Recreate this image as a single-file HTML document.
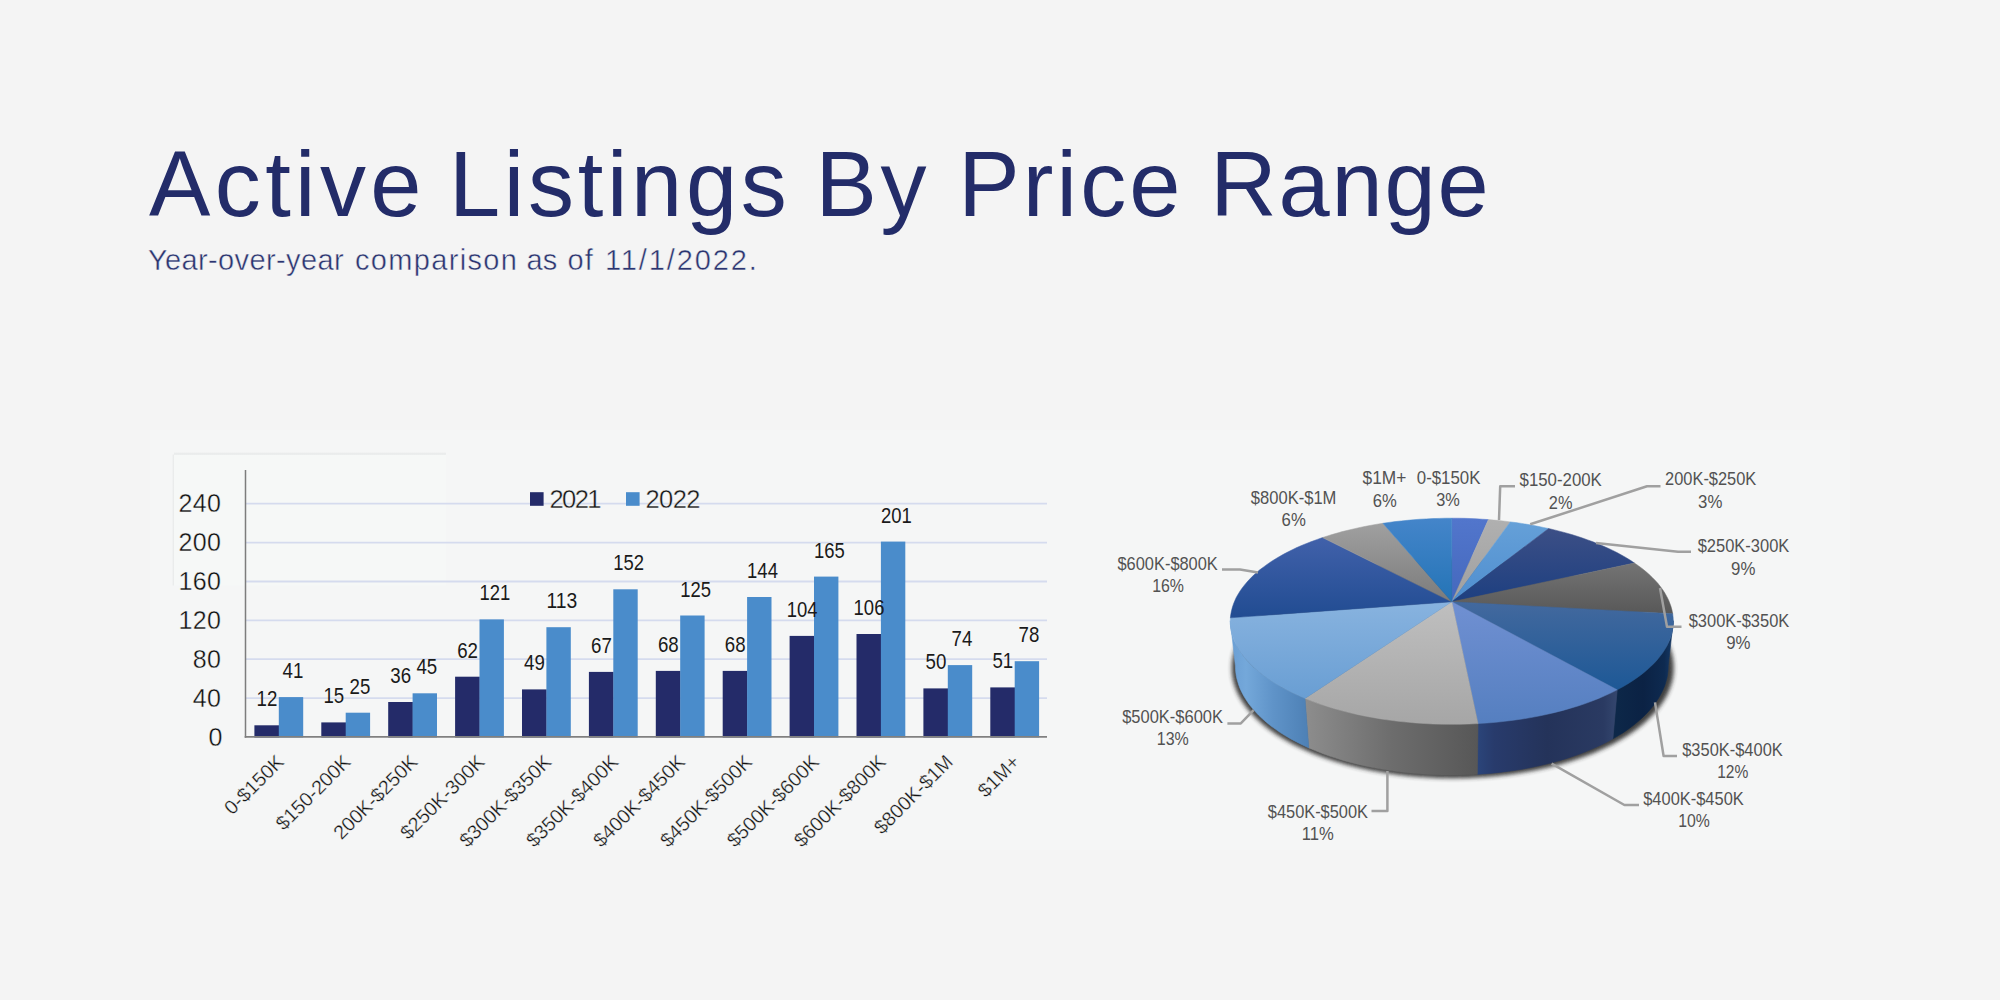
<!DOCTYPE html>
<html lang="en"><head><meta charset="utf-8"><title>Active Listings By Price Range</title>
<style>
html,body{margin:0;padding:0;}
body{width:2000px;height:1000px;background:#f4f4f4;overflow:hidden;position:relative;font-family:"Liberation Sans",Arial,sans-serif;}
h1{position:absolute;left:0;top:130.5px;margin:0;font-weight:400;font-size:92px;line-height:106px;color:#232c69;white-space:nowrap;width:2000px;height:106px;}
h1 span{position:absolute;top:0;}
p.sub span{position:absolute;top:0;}
p.sub{position:absolute;left:0;top:242.6px;width:2000px;height:34px;margin:0;font-size:29px;line-height:34px;color:#2b3470;white-space:nowrap;-webkit-text-stroke:0.45px #f4f4f4;}
svg{position:absolute;left:0;top:0;}
svg text{font-family:"Liberation Sans",Arial,sans-serif;}
.yl{font-size:25px;fill:#0e0e0e;letter-spacing:0.4px;stroke:#f5f7f6;stroke-width:0.35px;}
.lg{font-size:25.5px;fill:#141414;stroke:#f5f7f6;stroke-width:0.35px;}
.vl{font-size:21.5px;fill:#1a1a1a;}
.cl{font-size:19.7px;fill:#121212;stroke:#f5f7f6;stroke-width:0.3px;}
.pl{font-size:19px;fill:#525252;}
</style></head>
<body>
<h1><span style="left:149px;letter-spacing:4.4px">Active</span> <span style="left:449px;letter-spacing:3.7px">Listings</span> <span style="left:815.5px;letter-spacing:3.6px">By</span> <span style="left:958.3px;letter-spacing:3.15px">Price</span> <span style="left:1210.3px;letter-spacing:1.8px">Range</span></h1>
<p class="sub"><span style="left:148.0px;letter-spacing:0.37px">Year-over-year</span> <span style="left:355.0px;letter-spacing:1.324px">comparison</span> <span style="left:526.5px;letter-spacing:0.1px">as</span> <span style="left:567.5px;letter-spacing:1.1px">of</span> <span style="left:605.0px;letter-spacing:1.879px">11/1/2022.</span></p>
<svg width="2000" height="1000" viewBox="0 0 2000 1000">
<defs>
<linearGradient id="bxs" x1="0" y1="0" x2="0" y2="1"><stop offset="0" stop-color="#e4e6e6" stop-opacity="0"/><stop offset="1" stop-color="#e2e4e4"/></linearGradient>
<linearGradient id="bxl" x1="0" y1="0" x2="1" y2="0"><stop offset="0" stop-color="#e8eaea" stop-opacity="0"/><stop offset="1" stop-color="#e6e8e8"/></linearGradient>
<filter id="psh" x="-10%" y="-10%" width="120%" height="130%"><feGaussianBlur stdDeviation="2.0"/><feOffset dx="0.5" dy="2.4"/><feComponentTransfer><feFuncA type="linear" slope="0.9"/></feComponentTransfer></filter>
<linearGradient id="w5" gradientUnits="userSpaceOnUse" x1="1612.9" y1="0" x2="1673.3" y2="0"><stop offset="0" stop-color="#0d2849"/><stop offset="0.5" stop-color="#0b2244"/><stop offset="0.85" stop-color="#0e2a50"/><stop offset="1" stop-color="#163a68"/></linearGradient>
<linearGradient id="w6" gradientUnits="userSpaceOnUse" x1="1477.3" y1="0" x2="1617.2" y2="0"><stop offset="0" stop-color="#2b457a"/><stop offset="0.12" stop-color="#283b6c"/><stop offset="0.5" stop-color="#24335a"/><stop offset="0.9" stop-color="#2a3a62"/><stop offset="1" stop-color="#34466e"/></linearGradient>
<linearGradient id="w7" gradientUnits="userSpaceOnUse" x1="1305.0" y1="0" x2="1478.0" y2="0"><stop offset="0" stop-color="#8d8d8d"/><stop offset="0.5" stop-color="#6d6d6d"/><stop offset="1" stop-color="#575757"/></linearGradient>
<linearGradient id="w8" gradientUnits="userSpaceOnUse" x1="1230.3" y1="0" x2="1308.8" y2="0"><stop offset="0" stop-color="#6a9ed3"/><stop offset="0.2" stop-color="#74a8da"/><stop offset="0.55" stop-color="#5f93c8"/><stop offset="1" stop-color="#4d80b5"/></linearGradient>
<linearGradient id="t0" x1="0" y1="0" x2="0" y2="1"><stop offset="0" stop-color="#5276cc"/><stop offset="1" stop-color="#4468bd"/></linearGradient>
<linearGradient id="t1" x1="0" y1="0" x2="0" y2="1"><stop offset="0" stop-color="#b0b0b0"/><stop offset="1" stop-color="#a0a0a0"/></linearGradient>
<linearGradient id="t2" x1="0" y1="0" x2="0" y2="1"><stop offset="0" stop-color="#65a0d8"/><stop offset="1" stop-color="#4f8ecf"/></linearGradient>
<linearGradient id="t3" x1="0" y1="0" x2="0" y2="1"><stop offset="0" stop-color="#3c4f86"/><stop offset="1" stop-color="#1d3f80"/></linearGradient>
<linearGradient id="t4" x1="0" y1="0" x2="0" y2="1"><stop offset="0" stop-color="#747474"/><stop offset="1" stop-color="#585858"/></linearGradient>
<linearGradient id="t5" x1="0" y1="0" x2="0" y2="1"><stop offset="0" stop-color="#43699e"/><stop offset="1" stop-color="#1d5896"/></linearGradient>
<linearGradient id="t6" x1="0" y1="0" x2="0" y2="1"><stop offset="0" stop-color="#7090d2"/><stop offset="1" stop-color="#557fc0"/></linearGradient>
<linearGradient id="t7" x1="0" y1="0" x2="0" y2="1"><stop offset="0" stop-color="#bfbfbf"/><stop offset="1" stop-color="#a6a6a6"/></linearGradient>
<linearGradient id="t8" x1="0" y1="0" x2="0" y2="1"><stop offset="0" stop-color="#88b3df"/><stop offset="1" stop-color="#699ed3"/></linearGradient>
<linearGradient id="t9" x1="0" y1="0" x2="0" y2="1"><stop offset="0" stop-color="#4161aa"/><stop offset="1" stop-color="#214c92"/></linearGradient>
<linearGradient id="t10" x1="0" y1="0" x2="0" y2="1"><stop offset="0" stop-color="#a0a0a0"/><stop offset="1" stop-color="#7b7b7b"/></linearGradient>
<linearGradient id="t11" x1="0" y1="0" x2="0" y2="1"><stop offset="0" stop-color="#4485ca"/><stop offset="1" stop-color="#2474b6"/></linearGradient>
</defs>
<rect x="150" y="430" width="1700" height="420" fill="#f5f6f6"/>
<rect x="174" y="454.5" width="272" height="131" fill="#f6f8f7"/>
<rect x="174" y="452" width="272" height="2.5" fill="url(#bxs)"/>
<rect x="171.8" y="454.5" width="2.2" height="131" fill="url(#bxl)"/>
<line x1="245.5" y1="698.1" x2="1047" y2="698.1" stroke="#d5dbee" stroke-width="1.8"/>
<line x1="245.5" y1="659.2" x2="1047" y2="659.2" stroke="#d5dbee" stroke-width="1.8"/>
<line x1="245.5" y1="620.4" x2="1047" y2="620.4" stroke="#d5dbee" stroke-width="1.8"/>
<line x1="245.5" y1="581.5" x2="1047" y2="581.5" stroke="#d5dbee" stroke-width="1.8"/>
<line x1="245.5" y1="542.6" x2="1047" y2="542.6" stroke="#d5dbee" stroke-width="1.8"/>
<line x1="245.5" y1="503.7" x2="1047" y2="503.7" stroke="#d5dbee" stroke-width="1.8"/>
<text x="222.8" y="745.7" text-anchor="end" class="yl">0</text>
<text x="221.3" y="706.8" text-anchor="end" class="yl">40</text>
<text x="221.3" y="667.9" text-anchor="end" class="yl">80</text>
<text x="221.3" y="629.1" text-anchor="end" class="yl">120</text>
<text x="221.3" y="590.2" text-anchor="end" class="yl">160</text>
<text x="221.3" y="551.3" text-anchor="end" class="yl">200</text>
<text x="221.3" y="512.4" text-anchor="end" class="yl">240</text>
<rect x="254.4" y="725.3" width="24.7" height="12.2" fill="#242b69"/>
<rect x="278.8" y="697.1" width="24.4" height="40.4" fill="#4a8ccb"/>
<rect x="321.3" y="722.4" width="24.7" height="15.1" fill="#242b69"/>
<rect x="345.7" y="712.7" width="24.4" height="24.8" fill="#4a8ccb"/>
<rect x="388.2" y="702.0" width="24.7" height="35.5" fill="#242b69"/>
<rect x="412.6" y="693.3" width="24.4" height="44.2" fill="#4a8ccb"/>
<rect x="455.1" y="676.7" width="24.7" height="60.8" fill="#242b69"/>
<rect x="479.5" y="619.4" width="24.4" height="118.1" fill="#4a8ccb"/>
<rect x="522.0" y="689.4" width="24.7" height="48.1" fill="#242b69"/>
<rect x="546.4" y="627.2" width="24.4" height="110.3" fill="#4a8ccb"/>
<rect x="588.9" y="671.9" width="24.7" height="65.6" fill="#242b69"/>
<rect x="613.3" y="589.3" width="24.4" height="148.2" fill="#4a8ccb"/>
<rect x="655.8" y="670.9" width="24.7" height="66.6" fill="#242b69"/>
<rect x="680.2" y="615.5" width="24.4" height="122.0" fill="#4a8ccb"/>
<rect x="722.7" y="670.9" width="24.7" height="66.6" fill="#242b69"/>
<rect x="747.1" y="597.0" width="24.4" height="140.5" fill="#4a8ccb"/>
<rect x="789.6" y="635.9" width="24.7" height="101.6" fill="#242b69"/>
<rect x="814.0" y="576.6" width="24.4" height="160.9" fill="#4a8ccb"/>
<rect x="856.5" y="634.0" width="24.7" height="103.5" fill="#242b69"/>
<rect x="880.9" y="541.6" width="24.4" height="195.9" fill="#4a8ccb"/>
<rect x="923.4" y="688.4" width="24.7" height="49.1" fill="#242b69"/>
<rect x="947.8" y="665.1" width="24.4" height="72.4" fill="#4a8ccb"/>
<rect x="990.3" y="687.4" width="24.7" height="50.1" fill="#242b69"/>
<rect x="1014.7" y="661.2" width="24.4" height="76.3" fill="#4a8ccb"/>
<line x1="245.5" y1="470" x2="245.5" y2="737.7" stroke="#7d7d7d" stroke-width="1.5"/>
<line x1="244.7" y1="736.9" x2="1047" y2="736.9" stroke="#808080" stroke-width="1.7"/>
<text x="266.9" y="706.3" text-anchor="middle" class="vl" textLength="20.8" lengthAdjust="spacingAndGlyphs">12</text>
<text x="293.0" y="678.1" text-anchor="middle" class="vl" textLength="20.8" lengthAdjust="spacingAndGlyphs">41</text>
<text x="333.8" y="703.4" text-anchor="middle" class="vl" textLength="20.8" lengthAdjust="spacingAndGlyphs">15</text>
<text x="359.9" y="693.7" text-anchor="middle" class="vl" textLength="20.8" lengthAdjust="spacingAndGlyphs">25</text>
<text x="400.7" y="683.0" text-anchor="middle" class="vl" textLength="20.8" lengthAdjust="spacingAndGlyphs">36</text>
<text x="426.8" y="674.3" text-anchor="middle" class="vl" textLength="20.8" lengthAdjust="spacingAndGlyphs">45</text>
<text x="467.6" y="657.7" text-anchor="middle" class="vl" textLength="20.8" lengthAdjust="spacingAndGlyphs">62</text>
<text x="494.9" y="600.4" text-anchor="middle" class="vl" textLength="30.8" lengthAdjust="spacingAndGlyphs">121</text>
<text x="534.5" y="670.4" text-anchor="middle" class="vl" textLength="20.8" lengthAdjust="spacingAndGlyphs">49</text>
<text x="561.8" y="608.2" text-anchor="middle" class="vl" textLength="30.8" lengthAdjust="spacingAndGlyphs">113</text>
<text x="601.4" y="652.9" text-anchor="middle" class="vl" textLength="20.8" lengthAdjust="spacingAndGlyphs">67</text>
<text x="628.7" y="570.3" text-anchor="middle" class="vl" textLength="30.8" lengthAdjust="spacingAndGlyphs">152</text>
<text x="668.3" y="651.9" text-anchor="middle" class="vl" textLength="20.8" lengthAdjust="spacingAndGlyphs">68</text>
<text x="695.6" y="596.5" text-anchor="middle" class="vl" textLength="30.8" lengthAdjust="spacingAndGlyphs">125</text>
<text x="735.2" y="651.9" text-anchor="middle" class="vl" textLength="20.8" lengthAdjust="spacingAndGlyphs">68</text>
<text x="762.5" y="578.0" text-anchor="middle" class="vl" textLength="30.8" lengthAdjust="spacingAndGlyphs">144</text>
<text x="802.1" y="616.9" text-anchor="middle" class="vl" textLength="30.8" lengthAdjust="spacingAndGlyphs">104</text>
<text x="829.4" y="557.6" text-anchor="middle" class="vl" textLength="30.8" lengthAdjust="spacingAndGlyphs">165</text>
<text x="869.0" y="615.0" text-anchor="middle" class="vl" textLength="30.8" lengthAdjust="spacingAndGlyphs">106</text>
<text x="896.3" y="522.6" text-anchor="middle" class="vl" textLength="30.8" lengthAdjust="spacingAndGlyphs">201</text>
<text x="935.9" y="669.4" text-anchor="middle" class="vl" textLength="20.8" lengthAdjust="spacingAndGlyphs">50</text>
<text x="962.0" y="646.1" text-anchor="middle" class="vl" textLength="20.8" lengthAdjust="spacingAndGlyphs">74</text>
<text x="1002.8" y="668.4" text-anchor="middle" class="vl" textLength="20.8" lengthAdjust="spacingAndGlyphs">51</text>
<text x="1028.9" y="642.2" text-anchor="middle" class="vl" textLength="20.8" lengthAdjust="spacingAndGlyphs">78</text>
<rect x="530" y="492.2" width="13.6" height="13.6" fill="#242b69"/>
<text x="549.5" y="507.6" class="lg" textLength="52" lengthAdjust="spacing">2021</text>
<rect x="626" y="492.2" width="13.6" height="13.6" fill="#4a8ccb"/>
<text x="645.5" y="507.6" class="lg" textLength="55" lengthAdjust="spacing">2022</text>
<text transform="translate(285.0,763.2) rotate(-45)" text-anchor="end" class="cl">0-$150K</text>
<text transform="translate(351.9,763.2) rotate(-45)" text-anchor="end" class="cl">$150-200K</text>
<text transform="translate(418.8,763.2) rotate(-45)" text-anchor="end" class="cl">200K-$250K</text>
<text transform="translate(485.7,763.2) rotate(-45)" text-anchor="end" class="cl">$250K-300K</text>
<text transform="translate(552.6,763.2) rotate(-45)" text-anchor="end" class="cl">$300K-$350K</text>
<text transform="translate(619.5,763.2) rotate(-45)" text-anchor="end" class="cl">$350K-$400K</text>
<text transform="translate(686.4,763.2) rotate(-45)" text-anchor="end" class="cl">$400K-$450K</text>
<text transform="translate(753.3,763.2) rotate(-45)" text-anchor="end" class="cl">$450K-$500K</text>
<text transform="translate(820.2,763.2) rotate(-45)" text-anchor="end" class="cl">$500K-$600K</text>
<text transform="translate(887.1,763.2) rotate(-45)" text-anchor="end" class="cl">$600K-$800K</text>
<text transform="translate(954.0,763.2) rotate(-45)" text-anchor="end" class="cl">$800K-$1M</text>
<text transform="translate(1020.9,763.2) rotate(-45)" text-anchor="end" class="cl">$1M+</text>
<g filter="url(#psh)"><path d="M1451.8,557.0 L1461.2,557.1 L1470.6,557.4 L1479.9,557.9 L1489.3,558.6 L1498.5,559.5 L1507.7,560.7 L1516.8,562.0 L1525.8,563.5 L1534.7,565.3 L1543.5,567.2 L1552.1,569.4 L1560.6,571.7 L1568.9,574.3 L1576.9,577.0 L1584.8,580.0 L1592.5,583.1 L1599.9,586.5 L1607.0,590.0 L1613.9,593.7 L1620.4,597.7 L1626.7,601.8 L1632.5,606.0 L1638.0,610.5 L1643.2,615.1 L1647.9,619.9 L1652.2,624.8 L1656.0,629.9 L1659.3,635.1 L1662.2,640.4 L1664.5,645.9 L1666.3,651.4 L1667.5,657.1 L1668.1,662.8 L1668.1,668.7 L1667.6,674.5 L1666.3,680.4 L1664.4,686.3 L1661.9,692.2 L1658.6,698.1 L1654.7,703.9 L1650.1,709.7 L1644.8,715.3 L1638.8,720.9 L1632.1,726.3 L1624.8,731.5 L1616.8,736.6 L1608.1,741.5 L1598.8,746.1 L1588.9,750.4 L1578.4,754.5 L1567.4,758.2 L1555.9,761.6 L1543.9,764.7 L1531.5,767.4 L1518.8,769.7 L1505.8,771.6 L1492.5,773.1 L1479.0,774.2 L1465.4,774.9 L1451.8,775.1 L1438.2,774.9 L1424.6,774.2 L1411.1,773.1 L1397.8,771.6 L1384.8,769.7 L1372.1,767.4 L1359.7,764.7 L1347.7,761.6 L1336.2,758.2 L1325.2,754.5 L1314.7,750.4 L1304.8,746.1 L1295.5,741.5 L1286.8,736.6 L1278.8,731.5 L1271.5,726.3 L1264.8,720.9 L1258.8,715.3 L1253.5,709.7 L1248.9,703.9 L1245.0,698.1 L1241.7,692.2 L1239.2,686.3 L1237.3,680.4 L1236.0,674.5 L1235.5,668.7 L1235.5,662.8 L1236.1,657.1 L1237.3,651.4 L1239.1,645.9 L1241.4,640.4 L1244.3,635.1 L1247.6,629.9 L1251.4,624.8 L1255.7,619.9 L1260.4,615.1 L1265.6,610.5 L1271.1,606.0 L1276.9,601.8 L1283.2,597.7 L1289.7,593.7 L1296.6,590.0 L1303.7,586.5 L1311.1,583.1 L1318.8,580.0 L1326.7,577.0 L1334.7,574.3 L1343.0,571.7 L1351.5,569.4 L1360.1,567.2 L1368.9,565.3 L1377.8,563.5 L1386.8,562.0 L1395.9,560.7 L1405.1,559.5 L1414.3,558.6 L1423.7,557.9 L1433.0,557.4 L1442.4,557.1 L1451.8,557.0Z" transform="translate(1451.8,666.0) scale(1.016,1.0) translate(-1451.8,-666.0)" fill="#2b2a2a" stroke="#2b2a2a" stroke-width="2.2" stroke-linejoin="round"/></g>
<path d="M1673.3,620.7 L1673.2,624.3 L1672.8,627.8 L1672.2,631.4 L1671.3,635.0 L1670.1,638.7 L1668.6,642.3 L1666.9,645.9 L1664.8,649.5 L1662.5,653.1 L1659.8,656.6 L1656.9,660.2 L1653.7,663.7 L1650.1,667.1 L1646.3,670.5 L1642.2,673.9 L1637.8,677.2 L1633.1,680.5 L1628.1,683.7 L1622.8,686.8 L1617.2,689.8 L1612.9,738.8 L1618.4,735.6 L1623.6,732.4 L1628.5,729.0 L1633.1,725.6 L1637.4,722.1 L1641.5,718.5 L1645.2,714.9 L1648.7,711.3 L1651.9,707.6 L1654.8,703.8 L1657.4,700.1 L1659.7,696.3 L1661.7,692.5 L1663.5,688.7 L1665.0,684.9 L1666.1,681.1 L1667.1,677.3 L1667.7,673.5 L1668.1,669.7 L1668.2,665.9Z" fill="url(#w5)" stroke="url(#w5)" stroke-width="0.6"/>
<path d="M1617.2,689.8 L1611.3,692.8 L1605.2,695.6 L1598.7,698.4 L1592.1,701.0 L1585.2,703.6 L1578.0,706.0 L1570.6,708.2 L1563.0,710.4 L1555.2,712.4 L1547.2,714.3 L1539.0,716.0 L1530.7,717.6 L1522.2,719.0 L1513.5,720.2 L1504.8,721.3 L1495.9,722.3 L1487.0,723.0 L1478.0,723.6 L1477.3,774.3 L1486.0,773.7 L1494.7,772.9 L1503.3,771.9 L1511.9,770.8 L1520.3,769.5 L1528.5,768.0 L1536.7,766.3 L1544.6,764.5 L1552.4,762.6 L1560.1,760.4 L1567.5,758.2 L1574.7,755.8 L1581.7,753.3 L1588.4,750.6 L1594.9,747.8 L1601.2,744.9 L1607.2,741.9 L1612.9,738.8Z" fill="url(#w6)" stroke="url(#w6)" stroke-width="0.6"/>
<path d="M1478.0,723.6 L1469.0,724.0 L1460.0,724.3 L1451.1,724.3 L1442.1,724.2 L1433.1,724.0 L1424.1,723.5 L1415.3,722.9 L1406.4,722.1 L1397.7,721.2 L1389.1,720.1 L1380.6,718.9 L1372.2,717.4 L1364.0,715.9 L1355.9,714.2 L1348.0,712.3 L1340.3,710.3 L1332.8,708.2 L1325.5,705.9 L1318.4,703.6 L1311.6,701.1 L1305.0,698.4 L1308.8,747.9 L1315.3,750.6 L1321.9,753.3 L1328.8,755.8 L1335.9,758.1 L1343.3,760.4 L1350.8,762.5 L1358.5,764.4 L1366.3,766.2 L1374.3,767.8 L1382.5,769.3 L1390.8,770.6 L1399.2,771.8 L1407.7,772.8 L1416.2,773.6 L1424.9,774.2 L1433.6,774.7 L1442.3,775.0 L1451.1,775.1 L1459.8,775.0 L1468.6,774.7 L1477.3,774.3Z" fill="url(#w7)" stroke="url(#w7)" stroke-width="0.6"/>
<path d="M1305.0,698.4 L1298.6,695.7 L1292.5,692.9 L1286.6,689.9 L1281.0,686.9 L1275.7,683.8 L1270.7,680.6 L1265.9,677.3 L1261.5,674.0 L1257.4,670.6 L1253.5,667.2 L1250.0,663.7 L1246.7,660.2 L1243.8,656.7 L1241.2,653.1 L1238.8,649.5 L1236.7,645.9 L1235.0,642.3 L1233.5,638.7 L1232.3,635.1 L1231.4,631.5 L1230.8,627.9 L1230.4,624.3 L1230.3,620.7 L1235.4,665.9 L1235.5,669.7 L1235.9,673.5 L1236.5,677.3 L1237.5,681.1 L1238.7,684.9 L1240.1,688.7 L1241.9,692.5 L1243.9,696.3 L1246.3,700.1 L1248.9,703.9 L1251.8,707.6 L1255.0,711.3 L1258.4,715.0 L1262.2,718.6 L1266.3,722.2 L1270.6,725.7 L1275.3,729.1 L1280.2,732.5 L1285.4,735.7 L1290.8,738.9 L1296.6,742.0 L1302.6,745.0 L1308.8,747.9Z" fill="url(#w8)" stroke="url(#w8)" stroke-width="0.6"/>
<path d="M1451.8,601.8 L1451.8,518.2 L1457.9,518.2 L1464.0,518.3 L1470.1,518.5 L1476.2,518.8 L1482.3,519.2 L1488.4,519.6Z" fill="url(#t0)" stroke="url(#t0)" stroke-width="0.5"/>
<path d="M1451.8,601.8 L1488.4,519.6 L1493.9,520.1 L1499.4,520.6 L1504.9,521.2 L1510.3,521.9Z" fill="url(#t1)" stroke="url(#t1)" stroke-width="0.5"/>
<path d="M1451.8,601.8 L1510.3,521.9 L1515.9,522.6 L1521.5,523.4 L1527.0,524.3 L1532.5,525.3 L1537.9,526.3 L1543.2,527.4 L1548.6,528.5Z" fill="url(#t2)" stroke="url(#t2)" stroke-width="0.5"/>
<path d="M1451.8,601.8 L1548.6,528.5 L1554.4,529.9 L1560.2,531.4 L1565.9,532.9 L1571.5,534.5 L1577.0,536.2 L1582.4,538.0 L1587.7,539.9 L1592.9,541.8 L1598.1,543.9 L1603.1,546.0 L1608.0,548.2 L1612.7,550.4 L1617.4,552.8 L1621.8,555.2 L1626.2,557.7 L1630.4,560.3 L1634.4,563.0Z" fill="url(#t3)" stroke="url(#t3)" stroke-width="0.5"/>
<path d="M1451.8,601.8 L1634.4,563.0 L1638.3,565.7 L1642.0,568.4 L1645.5,571.3 L1648.9,574.2 L1652.0,577.2 L1655.0,580.2 L1657.8,583.3 L1660.3,586.5 L1662.7,589.7 L1664.8,593.0 L1666.7,596.4 L1668.4,599.7 L1669.8,603.2 L1671.0,606.6 L1672.0,610.2 L1672.7,613.7Z" fill="url(#t4)" stroke="url(#t4)" stroke-width="0.5"/>
<path d="M1451.8,601.8 L1672.7,613.7 L1673.1,617.2 L1673.3,620.7 L1673.2,624.3 L1672.8,627.9 L1672.2,631.5 L1671.3,635.1 L1670.1,638.7 L1668.6,642.3 L1666.9,645.9 L1664.8,649.5 L1662.5,653.1 L1659.8,656.6 L1656.9,660.2 L1653.7,663.7 L1650.1,667.1 L1646.3,670.6 L1642.2,673.9 L1637.8,677.2 L1633.0,680.5 L1628.0,683.7 L1622.8,686.8 L1617.2,689.8Z" fill="url(#t5)" stroke="url(#t5)" stroke-width="0.5"/>
<path d="M1451.8,601.8 L1617.2,689.8 L1611.3,692.8 L1605.2,695.6 L1598.7,698.4 L1592.1,701.0 L1585.2,703.6 L1578.0,706.0 L1570.6,708.2 L1563.0,710.4 L1555.2,712.4 L1547.2,714.3 L1539.0,716.0 L1530.7,717.6 L1522.2,719.0 L1513.5,720.2 L1504.8,721.3 L1495.9,722.3 L1487.0,723.0 L1478.0,723.6Z" fill="url(#t6)" stroke="url(#t6)" stroke-width="0.5"/>
<path d="M1451.8,601.8 L1478.0,723.6 L1469.0,724.0 L1460.0,724.3 L1451.1,724.3 L1442.1,724.2 L1433.1,724.0 L1424.1,723.5 L1415.3,722.9 L1406.4,722.1 L1397.7,721.2 L1389.1,720.1 L1380.6,718.9 L1372.2,717.4 L1364.0,715.9 L1355.9,714.2 L1348.0,712.3 L1340.3,710.3 L1332.8,708.2 L1325.5,705.9 L1318.4,703.6 L1311.6,701.1 L1305.0,698.4Z" fill="url(#t7)" stroke="url(#t7)" stroke-width="0.5"/>
<path d="M1451.8,601.8 L1305.0,698.4 L1298.7,695.7 L1292.6,692.9 L1286.7,690.0 L1281.2,687.0 L1275.9,683.9 L1270.9,680.7 L1266.2,677.5 L1261.8,674.2 L1257.6,670.8 L1253.8,667.4 L1250.3,664.0 L1247.0,660.5 L1244.1,657.0 L1241.4,653.5 L1239.0,649.9 L1237.0,646.3 L1235.2,642.7 L1233.7,639.1 L1232.5,635.6 L1231.5,632.0 L1230.8,628.4 L1230.4,624.8 L1230.3,621.3 L1230.4,617.8Z" fill="url(#t8)" stroke="url(#t8)" stroke-width="0.5"/>
<path d="M1451.8,601.8 L1230.4,617.8 L1230.8,614.3 L1231.5,610.8 L1232.4,607.3 L1233.5,603.9 L1234.9,600.5 L1236.4,597.2 L1238.3,593.9 L1240.3,590.7 L1242.6,587.5 L1245.0,584.4 L1247.7,581.3 L1250.5,578.3 L1253.5,575.3 L1256.7,572.4 L1260.1,569.6 L1263.7,566.9 L1267.4,564.2 L1271.3,561.5 L1275.3,559.0 L1279.5,556.5 L1283.8,554.1 L1288.2,551.8 L1292.8,549.5 L1297.4,547.3 L1302.2,545.2 L1307.2,543.2 L1312.2,541.3 L1317.3,539.4 L1322.5,537.6Z" fill="url(#t9)" stroke="url(#t9)" stroke-width="0.5"/>
<path d="M1451.8,601.8 L1322.5,537.6 L1327.6,535.9 L1332.9,534.3 L1338.2,532.8 L1343.5,531.3 L1349.0,530.0 L1354.5,528.7 L1360.1,527.4 L1365.7,526.3 L1371.4,525.2 L1377.1,524.2 L1382.9,523.3Z" fill="url(#t10)" stroke="url(#t10)" stroke-width="0.5"/>
<path d="M1451.8,601.8 L1382.9,523.3 L1389.0,522.4 L1395.2,521.6 L1401.4,520.9 L1407.6,520.3 L1413.9,519.7 L1420.1,519.2 L1426.4,518.9 L1432.8,518.6 L1439.1,518.4 L1445.5,518.2 L1451.8,518.2Z" fill="url(#t11)" stroke="url(#t11)" stroke-width="0.5"/>
<path d="M1515,486.3 L1500.2,486.3 L1499,520" fill="none" stroke="#a0a0a0" stroke-width="2.5" stroke-linejoin="round"/>
<path d="M1660.5,486.3 L1647,486.3 L1530.2,524.3" fill="none" stroke="#a0a0a0" stroke-width="2.5" stroke-linejoin="round"/>
<path d="M1691,551.8 L1678,551.8 L1596,543" fill="none" stroke="#a0a0a0" stroke-width="2.5" stroke-linejoin="round"/>
<path d="M1681.5,626.8 L1667,626.8 L1660,588" fill="none" stroke="#a0a0a0" stroke-width="2.5" stroke-linejoin="round"/>
<path d="M1677,756 L1663.6,756 L1655,702.4" fill="none" stroke="#a0a0a0" stroke-width="2.5" stroke-linejoin="round"/>
<path d="M1639,805 L1624.4,805 L1551.6,763.6" fill="none" stroke="#a0a0a0" stroke-width="2.5" stroke-linejoin="round"/>
<path d="M1371.5,811 L1387.4,811 L1387.4,771" fill="none" stroke="#a0a0a0" stroke-width="2.5" stroke-linejoin="round"/>
<path d="M1227.4,723.4 L1240.8,723.4 L1253.6,710.2" fill="none" stroke="#a0a0a0" stroke-width="2.5" stroke-linejoin="round"/>
<path d="M1222,569.5 L1240,569.5 L1258,572.5" fill="none" stroke="#a0a0a0" stroke-width="2.5" stroke-linejoin="round"/>
<text x="1250.8" y="503.6" class="pl" textLength="85.6" lengthAdjust="spacingAndGlyphs">$800K-$1M</text>
<text x="1281.6" y="526.0" class="pl" textLength="24.2" lengthAdjust="spacingAndGlyphs">6%</text>
<text x="1362.6" y="484.4" class="pl" textLength="43.8" lengthAdjust="spacingAndGlyphs">$1M+</text>
<text x="1372.8" y="506.6" class="pl" textLength="24.0" lengthAdjust="spacingAndGlyphs">6%</text>
<text x="1416.8" y="484.2" class="pl" textLength="63.6" lengthAdjust="spacingAndGlyphs">0-$150K</text>
<text x="1436.2" y="506.2" class="pl" textLength="23.6" lengthAdjust="spacingAndGlyphs">3%</text>
<text x="1519.6" y="486.4" class="pl" textLength="82.2" lengthAdjust="spacingAndGlyphs">$150-200K</text>
<text x="1548.8" y="508.6" class="pl" textLength="23.6" lengthAdjust="spacingAndGlyphs">2%</text>
<text x="1665.1" y="484.7" class="pl" textLength="91.2" lengthAdjust="spacingAndGlyphs">200K-$250K</text>
<text x="1698.1" y="507.6" class="pl" textLength="24.3" lengthAdjust="spacingAndGlyphs">3%</text>
<text x="1697.7" y="551.8" class="pl" textLength="91.6" lengthAdjust="spacingAndGlyphs">$250K-300K</text>
<text x="1731.1" y="574.6" class="pl" textLength="24.3" lengthAdjust="spacingAndGlyphs">9%</text>
<text x="1688.7" y="626.6" class="pl" textLength="100.6" lengthAdjust="spacingAndGlyphs">$300K-$350K</text>
<text x="1726.2" y="649.4" class="pl" textLength="24.3" lengthAdjust="spacingAndGlyphs">9%</text>
<text x="1682.2" y="755.6" class="pl" textLength="100.6" lengthAdjust="spacingAndGlyphs">$350K-$400K</text>
<text x="1717.2" y="778.4" class="pl" textLength="31.2" lengthAdjust="spacingAndGlyphs">12%</text>
<text x="1643.2" y="805.0" class="pl" textLength="100.6" lengthAdjust="spacingAndGlyphs">$400K-$450K</text>
<text x="1678.2" y="827.4" class="pl" textLength="31.6" lengthAdjust="spacingAndGlyphs">10%</text>
<text x="1267.8" y="817.8" class="pl" textLength="100.2" lengthAdjust="spacingAndGlyphs">$450K-$500K</text>
<text x="1301.8" y="840.0" class="pl" textLength="32.0" lengthAdjust="spacingAndGlyphs">11%</text>
<text x="1122.2" y="723.4" class="pl" textLength="100.8" lengthAdjust="spacingAndGlyphs">$500K-$600K</text>
<text x="1156.8" y="745.4" class="pl" textLength="32.0" lengthAdjust="spacingAndGlyphs">13%</text>
<text x="1117.5" y="569.5" class="pl" textLength="100.3" lengthAdjust="spacingAndGlyphs">$600K-$800K</text>
<text x="1152.2" y="591.8" class="pl" textLength="31.8" lengthAdjust="spacingAndGlyphs">16%</text>
</svg>
</body></html>
